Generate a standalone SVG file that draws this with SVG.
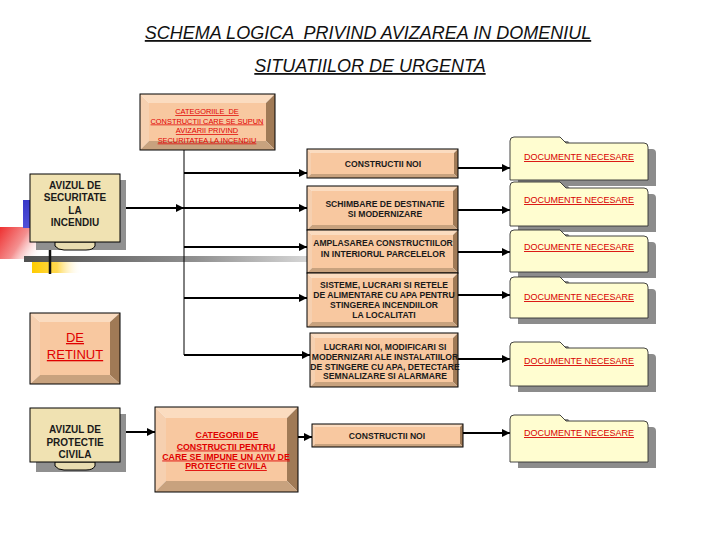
<svg xmlns="http://www.w3.org/2000/svg" width="720" height="540" viewBox="0 0 720 540">
<defs>
<marker id="arr" viewBox="0 0 10 10" refX="10" refY="5" markerUnits="userSpaceOnUse" markerWidth="9" markerHeight="8" orient="auto"><path d="M0,0 L10,5 L0,10 z" fill="#000"/></marker>
<linearGradient id="gbar" x1="0" y1="0" x2="1" y2="0"><stop offset="0" stop-color="#505050"/><stop offset="0.6" stop-color="#909090"/><stop offset="1" stop-color="#d8d8d8"/></linearGradient>
<linearGradient id="gred" x1="0" y1="0" x2="1" y2="0.4"><stop offset="0" stop-color="#ee3030"/><stop offset="0.5" stop-color="#f49090"/><stop offset="1" stop-color="#ffffff" stop-opacity="0"/></linearGradient>
<linearGradient id="gyel" x1="0" y1="0" x2="1" y2="0"><stop offset="0" stop-color="#ffcc00"/><stop offset="0.5" stop-color="#ffd850"/><stop offset="1" stop-color="#ffffff" stop-opacity="0"/></linearGradient>
<linearGradient id="gblue" x1="0" y1="0" x2="0" y2="1"><stop offset="0" stop-color="#3838c8"/><stop offset="1" stop-color="#5050d8"/></linearGradient>
</defs>
<style>
.title{font-family:"Liberation Sans",Arial,sans-serif;font-size:18px;font-style:italic;fill:#111;text-decoration:underline;white-space:pre;}
.bt{font-family:"Liberation Sans",Arial,sans-serif;font-size:8.6px;font-weight:bold;fill:#1a1a1a;text-anchor:middle;}
.rt{font-family:"Liberation Sans",Arial,sans-serif;font-size:7.4px;fill:#e00000;text-anchor:middle;text-decoration:underline;white-space:pre;}
.rtb{font-family:"Liberation Sans",Arial,sans-serif;font-size:8.8px;font-weight:bold;fill:#e00000;text-anchor:middle;text-decoration:underline;}
.doc{font-family:"Liberation Sans",Arial,sans-serif;font-size:9px;fill:#d80000;text-anchor:middle;text-decoration:underline;}
.av{font-family:"Liberation Sans",Arial,sans-serif;font-size:10px;font-weight:bold;fill:#1a1a1a;text-anchor:middle;}
.ret{font-family:"Liberation Sans",Arial,sans-serif;font-size:13px;fill:#e00000;text-anchor:middle;text-decoration:underline;}
.bl{fill:#fbdcc0;}
.bll{fill:#f6d0b0;}
.bd{fill:#a07a56;}
.bb{fill:#c8a27e;}
.face{fill:#f8c8a0;}
.outl{fill:none;stroke:#000;stroke-width:1;}
.fold{fill:#fffdd0;stroke:#303030;stroke-width:0.9;}
.fsh{fill:#8c8c8c;}
.beige{fill:#f0e2b2;stroke:#000;stroke-width:1;}
.shadow{fill:#909090;}
.con{fill:none;stroke:#000;stroke-width:2;}
.thin{fill:none;stroke:#000;stroke-width:1;}
</style>

<!-- decoration -->
<g id="decor">
<rect x="0" y="227" width="52" height="32" fill="url(#gred)"/>
<rect x="23" y="200" width="10" height="28" fill="url(#gblue)"/>
<rect x="32" y="262" width="50" height="11" fill="url(#gyel)"/>
<rect x="24" y="256" width="286" height="6" fill="url(#gbar)"/>
<line x1="50" y1="246" x2="50" y2="274" stroke="#111" stroke-width="2.5"/>
</g>

<text class="title" x="368" y="39" text-anchor="middle">SCHEMA LOGICA  PRIVIND AVIZAREA IN DOMENIUL</text>
<text class="title" x="370" y="72" text-anchor="middle">SITUATIILOR DE URGENTA</text>

<!-- connectors -->
<g id="connectors">
<line class="thin" x1="184" y1="150" x2="184" y2="355"/>
<line class="con" x1="184" y1="173" x2="307" y2="173" marker-end="url(#arr)"/>
<line class="con" x1="121" y1="208" x2="184" y2="208" marker-end="url(#arr)"/>
<line class="con" x1="184" y1="208" x2="307" y2="208" marker-end="url(#arr)"/>
<line class="con" x1="184" y1="247" x2="307" y2="247" marker-end="url(#arr)"/>
<line class="con" x1="184" y1="298" x2="307" y2="298" marker-end="url(#arr)"/>
<line class="con" x1="184" y1="355" x2="310" y2="355" marker-end="url(#arr)"/>
<line class="con" x1="458" y1="168" x2="510" y2="168" marker-end="url(#arr)"/>
<line class="con" x1="458" y1="210" x2="510" y2="210" marker-end="url(#arr)"/>
<line class="con" x1="458" y1="252" x2="510" y2="252" marker-end="url(#arr)"/>
<line class="con" x1="458" y1="295" x2="510" y2="295" marker-end="url(#arr)"/>
<line class="con" x1="458" y1="359" x2="510" y2="359" marker-end="url(#arr)"/>
<line class="con" x1="120" y1="432" x2="155" y2="432" marker-end="url(#arr)"/>
<line class="con" x1="298" y1="437" x2="312" y2="437" marker-end="url(#arr)"/>
<line class="con" x1="463" y1="433" x2="510" y2="433" marker-end="url(#arr)"/>
</g>

<!-- top categories box -->
<g id="cat-top">
<polygon class="bl" points="140,94 275,94 266,103 149,103"/>
<polygon class="bll" points="140,94 149,103 149,141 140,150"/>
<polygon class="bd" points="275,94 275,150 266,141 266,103"/>
<polygon class="bb" points="140,150 275,150 266,141 149,141"/>
<rect class="face" x="149" y="103" width="117" height="38"/>
<rect class="outl" x="140" y="94" width="135" height="56"/>
<text class="rt" x="207" y="114">CATEGORIILE  DE</text>
<text class="rt" x="207" y="123.5">CONSTRUCTII CARE SE SUPUN</text>
<text class="rt" x="207" y="133">AVIZARII PRIVIND</text>
<text class="rt" x="207" y="142.5">SECURITATEA LA INCENDIU</text>
</g>

<!-- AVIZUL DE SECURITATE -->
<g id="aviz-si">
<rect class="shadow" x="36" y="180" width="90" height="70"/>
<path d="M55,242 L55,246 Q58,250 64,250 L86,250 Q93,250 95,246 L95,242 Z" fill="#e8dcb0" stroke="#000" stroke-width="1"/>
<rect class="beige" x="30" y="174" width="90" height="68"/>
<text class="av" x="75" y="189">AVIZUL DE</text>
<text class="av" x="75" y="201">SECURITATE</text>
<text class="av" x="75" y="213.5">LA</text>
<text class="av" x="75" y="226">INCENDIU</text>
</g>

<!-- B1 -->
<g id="b1">
<polygon class="bl" points="307,149 458,149 454,153 311,153"/>
<polygon class="bll" points="307,149 311,153 311,174 307,178"/>
<polygon class="bd" points="458,149 458,178 454,174 454,153"/>
<polygon class="bb" points="307,178 458,178 454,174 311,174"/>
<rect class="face" x="311" y="153" width="143" height="21"/>
<rect class="outl" x="307" y="149" width="151" height="29"/>
<text class="bt" x="383" y="167">CONSTRUCTII NOI</text>
</g>

<!-- B2 -->
<g id="b2">
<polygon class="bl" points="307,186 458,186 453,191 312,191"/>
<polygon class="bll" points="307,186 312,191 312,225 307,230"/>
<polygon class="bd" points="458,186 458,230 453,225 453,191"/>
<polygon class="bb" points="307,230 458,230 453,225 312,225"/>
<rect class="face" x="312" y="191" width="141" height="34"/>
<rect class="outl" x="307" y="186" width="151" height="44"/>
<text class="bt" x="385" y="207">SCHIMBARE DE DESTINATIE</text>
<text class="bt" x="385" y="217">SI MODERNIZARE</text>
</g>

<!-- B3 -->
<g id="b3">
<polygon class="bl" points="307,230 458,230 453,235 312,235"/>
<polygon class="bll" points="307,230 312,235 312,268 307,273"/>
<polygon class="bd" points="458,230 458,273 453,268 453,235"/>
<polygon class="bb" points="307,273 458,273 453,268 312,268"/>
<rect class="face" x="312" y="235" width="141" height="33"/>
<rect class="outl" x="307" y="230" width="151" height="43"/>
<text class="bt" x="383" y="246">AMPLASAREA CONSTRUCTIILOR</text>
<text class="bt" x="383" y="257">IN INTERIORUL PARCELELOR</text>
</g>

<!-- B4 -->
<g id="b4">
<polygon class="bl" points="307,273 458,273 453,278 312,278"/>
<polygon class="bll" points="307,273 312,278 312,322 307,327"/>
<polygon class="bd" points="458,273 458,327 453,322 453,278"/>
<polygon class="bb" points="307,327 458,327 453,322 312,322"/>
<rect class="face" x="312" y="278" width="141" height="44"/>
<rect class="outl" x="307" y="273" width="151" height="54"/>
<text class="bt" x="384" y="288">SISTEME, LUCRARI SI RETELE</text>
<text class="bt" x="384" y="298">DE ALIMENTARE CU APA PENTRU</text>
<text class="bt" x="384" y="308">STINGEREA INCENDIILOR</text>
<text class="bt" x="384" y="318">LA LOCALITATI</text>
</g>

<!-- B5 -->
<g id="b5">
<polygon class="bl" points="310,333 458,333 453,338 315,338"/>
<polygon class="bll" points="310,333 315,338 315,382 310,387"/>
<polygon class="bd" points="458,333 458,387 453,382 453,338"/>
<polygon class="bb" points="310,387 458,387 453,382 315,382"/>
<rect class="face" x="315" y="338" width="138" height="44"/>
<rect class="outl" x="310" y="333" width="148" height="54"/>
<text class="bt" x="385" y="350">LUCRARI NOI, MODIFICARI SI</text>
<text class="bt" x="385" y="360">MODERNIZARI ALE INSTALATIILOR</text>
<text class="bt" x="385" y="369.5">DE STINGERE CU APA, DETECTARE</text>
<text class="bt" x="385" y="379">SEMNALIZARE SI ALARMARE</text>
</g>

<!-- B6 -->
<g id="b6">
<polygon class="bl" points="312,424 463,424 460,427 315,427"/>
<polygon class="bll" points="312,424 315,427 315,444 312,447"/>
<polygon class="bd" points="463,424 463,447 460,444 460,427"/>
<polygon class="bb" points="312,447 463,447 460,444 315,444"/>
<rect class="face" x="315" y="427" width="145" height="17"/>
<rect class="outl" x="312" y="424" width="151" height="23"/>
<text class="bt" x="387" y="438.5">CONSTRUCTII NOI</text>
</g>

<!-- DE RETINUT -->
<g id="de-retinut">
<polygon class="bl" points="30,313 120,313 110,322 40,322"/>
<polygon class="bll" points="30,313 40,322 40,375 30,384"/>
<polygon class="bd" points="120,313 120,384 110,375 110,322"/>
<polygon class="bb" points="30,384 120,384 110,375 40,375"/>
<rect class="face" x="40" y="322" width="70" height="53"/>
<rect class="outl" x="30" y="313" width="90" height="71"/>
<text class="ret" x="75" y="342">DE</text>
<text class="ret" x="75" y="359">RETINUT</text>
</g>

<!-- AVIZUL DE PROTECTIE CIVILA -->
<g id="aviz-pc">
<rect class="shadow" x="36" y="414" width="90" height="58"/>
<path d="M55,462 L55,466 Q58,470 64,470 L86,470 Q93,470 95,466 L95,462 Z" fill="#e8dcb0" stroke="#000" stroke-width="1"/>
<rect class="beige" x="30" y="408" width="90" height="54"/>
<text class="av" x="75" y="433">AVIZUL DE</text>
<text class="av" x="75" y="446">PROTECTIE</text>
<text class="av" x="75" y="458">CIVILA</text>
</g>

<!-- CATEGORII bottom -->
<g id="cat-pc">
<polygon class="bl" points="155,407 298,407 287,418 166,418"/>
<polygon class="bll" points="155,407 166,418 166,481 155,492"/>
<polygon class="bd" points="298,407 298,492 287,481 287,418"/>
<polygon class="bb" points="155,492 298,492 287,481 166,481"/>
<rect class="face" x="166" y="418" width="121" height="63"/>
<rect class="outl" x="155" y="407" width="143" height="85"/>
<text class="rtb" x="227" y="438">CATEGORII DE</text>
<text class="rtb" x="226" y="449.5">CONSTRUCTII PENTRU</text>
<text class="rtb" x="226" y="459.5">CARE SE IMPUNE UN AVIV DE</text>
<text class="rtb" x="226" y="469">PROTECTIE CIVILA</text>
</g>

<!-- folders -->
<g id="doc1">
<path class="fsh" d="M518,186 L518,145 Q518,141 522,141 L568,141 L574,149 L652,149 Q656,149 656,153 L656,186 Z"/>
<path class="fold" d="M510,180 L510,141 Q510,137 514,137 L560,137 L566,143 L644,143 Q648,143 648,147 L648,180 Z"/>
<text class="doc" x="579" y="160">DOCUMENTE NECESARE</text>
</g>
<g id="doc2">
<path class="fsh" d="M518,232 L518,190 Q518,186 522,186 L568,186 L574,194 L652,194 Q656,194 656,198 L656,232 Z"/>
<path class="fold" d="M510,226 L510,186 Q510,182 514,182 L560,182 L566,188 L644,188 Q648,188 648,192 L648,226 Z"/>
<text class="doc" x="579" y="203">DOCUMENTE NECESARE</text>
</g>
<g id="doc3">
<path class="fsh" d="M518,278 L518,238 Q518,234 522,234 L568,234 L574,242 L652,242 Q656,242 656,246 L656,278 Z"/>
<path class="fold" d="M510,272 L510,234 Q510,230 514,230 L560,230 L566,236 L644,236 Q648,236 648,240 L648,272 Z"/>
<text class="doc" x="579" y="250">DOCUMENTE NECESARE</text>
</g>
<g id="doc4">
<path class="fsh" d="M518,324 L518,285 Q518,281 522,281 L568,281 L574,289 L652,289 Q656,289 656,293 L656,324 Z"/>
<path class="fold" d="M510,318 L510,281 Q510,277 514,277 L560,277 L566,283 L644,283 Q648,283 648,287 L648,318 Z"/>
<text class="doc" x="579" y="300">DOCUMENTE NECESARE</text>
</g>
<g id="doc5">
<path class="fsh" d="M518,392 L518,350 Q518,346 522,346 L568,346 L574,354 L652,354 Q656,354 656,358 L656,392 Z"/>
<path class="fold" d="M510,386 L510,346 Q510,342 514,342 L560,342 L566,348 L644,348 Q648,348 648,352 L648,386 Z"/>
<text class="doc" x="579" y="364">DOCUMENTE NECESARE</text>
</g>
<g id="doc6">
<path class="fsh" d="M518,468 L518,423 Q518,419 522,419 L568,419 L574,427 L652,427 Q656,427 656,431 L656,468 Z"/>
<path class="fold" d="M510,462 L510,419 Q510,415 514,415 L560,415 L566,421 L644,421 Q648,421 648,425 L648,462 Z"/>
<text class="doc" x="579" y="436">DOCUMENTE NECESARE</text>
</g>
</svg>
